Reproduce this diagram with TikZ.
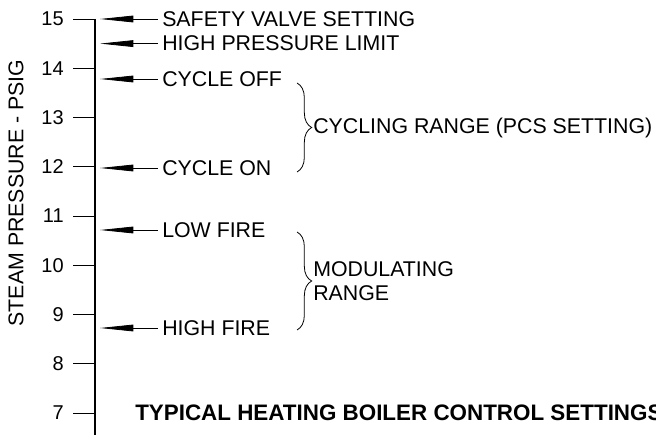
\documentclass[tikz,border=0pt]{standalone}
\usepackage{fontspec}
\setmainfont{Liberation Sans}
\usetikzlibrary{arrows.meta,decorations.pathreplacing}
\begin{document}
\begin{tikzpicture}[x=0.75pt,y=-0.75pt,
  every node/.style={font=\fontsize{16}{18}\selectfont,inner sep=0pt},
  setlabel/.style={anchor=west,inner xsep=3pt},
  setarrow/.style={{Triangle[length=25pt,width=5pt]}-,semithick},
  rangebrace/.style={decorate,decoration={brace,amplitude=11pt},semithick}]
  \useasboundingbox (0,0) rectangle (656,435);
  % pressure scale
  \coordinate (top) at (95,19);
  \coordinate (bot) at (95,435);
  \draw[line width=1.8pt] (top) -- (bot);
  \foreach \p in {7,...,15}{
    \node[anchor=east,font=\fontsize{15}{16}\selectfont] (t\p) at (64,{19+(15-\p)*49.25}) {\p};
    \draw (t\p.east) ++(9,0) -- (95,{19+(15-\p)*49.25});
  }
  \node[rotate=90] (ylabel) at (16,193) {STEAM PRESSURE - PSIG};
  % settings
  \coordinate (a-safety) at (100,19);
  \coordinate (a-high) at (100,43.6);
  \coordinate (a-off) at (100,79);
  \coordinate (a-on) at (100,168);
  \coordinate (a-low) at (100,230);
  \coordinate (a-fire) at (100,328);
  \node[setlabel] (safety) at (158,19) {SAFETY VALVE SETTING};
  \node[setlabel] (highlimit) at (158,43.6) {HIGH PRESSURE LIMIT};
  \node[setlabel] (cycleoff) at (158,79) {CYCLE OFF};
  \node[setlabel] (cycleon) at (158,168) {CYCLE ON};
  \node[setlabel] (lowfire) at (158,230) {LOW FIRE};
  \node[setlabel] (highfire) at (158,328) {HIGH FIRE};
  \draw[setarrow] (a-safety) -- (safety.west);
  \draw[setarrow] (a-high) -- (highlimit.west);
  \draw[setarrow] (a-off) -- (cycleoff.west);
  \draw[setarrow] (a-on) -- (cycleon.west);
  \draw[setarrow] (a-low) -- (lowfire.west);
  \draw[setarrow] (a-fire) -- (highfire.west);
  % ranges
  \draw[rangebrace] (297,83) -- (297,172);
  \node[anchor=west] (cycling) at (313,127.5) {CYCLING RANGE (PCS SETTING)};
  \draw[rangebrace] (297,232) -- (297,330);
  \node[anchor=west,align=left] (modrange) at (313,281) {MODULATING\\RANGE};
  \node[anchor=west,font=\fontsize{16.8}{18}\selectfont\bfseries] (title) at (135,413) {TYPICAL HEATING BOILER CONTROL SETTINGS};
\end{tikzpicture}
\end{document}
